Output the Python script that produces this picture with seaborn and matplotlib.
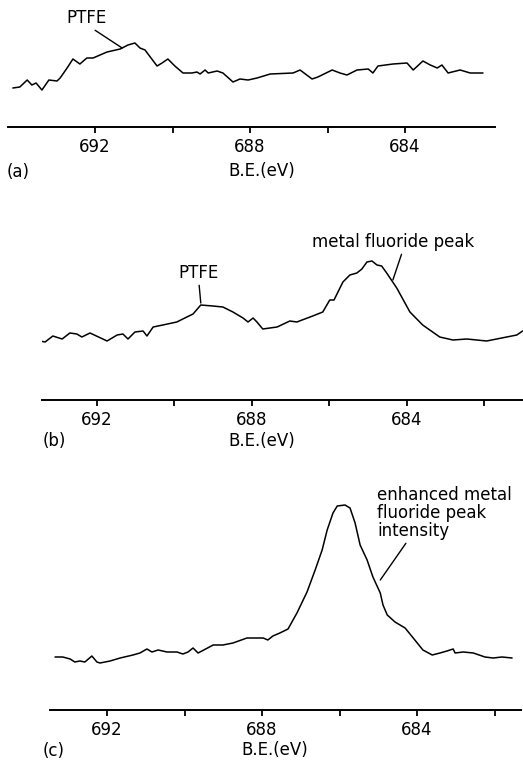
import numpy as np
import pandas as pd
import matplotlib
matplotlib.use("Agg")
import matplotlib.pyplot as plt
import seaborn as sns

# ---------------- data (binding energy eV, intensity arb. units) ----------------
be_a = [694.12, 693.94, 693.75, 693.63, 693.52, 693.37, 693.19, 692.98, 692.90, 692.72,
        692.57, 692.39, 692.21, 692.05, 691.69, 691.35, 691.15, 690.97, 690.84, 690.71,
        690.40, 690.27, 690.12, 689.94, 689.73, 689.50, 689.37, 689.29, 689.16, 689.08,
        688.85, 688.70, 688.44, 688.26, 688.05, 687.82, 687.48, 686.89, 686.71, 686.40,
        686.25, 685.88, 685.68, 685.50, 685.24, 684.95, 684.83, 684.70, 684.31, 683.95,
        683.79, 683.54, 683.35, 683.17, 683.05, 682.89, 682.58, 682.32, 681.99]
int_a = [39, 40, 47, 42, 44, 37, 47, 46, 49, 59,
         68, 63, 69, 69, 75, 78, 82, 84, 79, 77,
         61, 64, 68, 61, 54, 54, 55, 53, 57, 54,
         56, 54, 45, 48, 47, 49, 53, 54, 57, 48,
         50, 57, 54, 52, 57, 58, 54, 61, 63, 64,
         57, 66, 62, 59, 62, 54, 57, 54, 54]

be_b = [693.47, 693.34, 693.14, 692.90, 692.70, 692.52, 692.39, 692.18, 691.74, 691.48,
        691.33, 691.20, 691.02, 690.81, 690.71, 690.55, 690.30, 689.94, 689.68, 689.52,
        689.32, 689.01, 688.75, 688.49, 688.23, 688.10, 687.97, 687.87, 687.72, 687.35,
        687.02, 686.84, 686.43, 686.17, 685.99, 685.88, 685.65, 685.47, 685.29, 685.16,
        685.03, 684.90, 684.77, 684.65, 684.52, 684.26, 683.92, 683.59, 683.15, 682.81,
        682.45, 681.94, 681.42, 681.16, 681.01]
int_b = [59, 58, 64, 61, 67, 66, 63, 67, 59, 65,
         66, 61, 68, 69, 64, 73, 75, 78, 83, 86,
         95, 94, 93, 88, 82, 78, 82, 78, 71, 73,
         79, 78, 84, 88, 100, 100, 118, 125, 127, 131,
         138, 139, 135, 134, 127, 112, 88, 75, 63, 60,
         61, 59, 63, 65, 69]

be_c = [693.34, 693.14, 692.95, 692.83, 692.70, 692.57, 692.39, 692.26, 692.18, 691.92,
        691.66, 691.33, 691.15, 690.97, 690.84, 690.68, 690.45, 690.19, 690.12, 690.04,
        689.91, 689.78, 689.65, 689.26, 689.01, 688.75, 688.39, 687.97, 687.85, 687.72,
        687.54, 687.33, 687.10, 686.84, 686.63, 686.45, 686.32, 686.17, 686.06, 685.86,
        685.73, 685.60, 685.47, 685.29, 685.14, 684.95, 684.88, 684.77, 684.57, 684.31,
        684.10, 683.85, 683.61, 683.41, 683.23, 683.07, 683.02, 682.81, 682.55, 682.25,
        682.04, 681.81, 681.55]
int_c = [53, 53, 51, 48, 49, 48, 54, 48, 47, 49,
         52, 55, 57, 61, 58, 60, 58, 58, 57, 56,
         58, 62, 57, 65, 65, 67, 72, 72, 70, 74,
         77, 81, 97, 118, 140, 160, 180, 197, 204, 205,
         202, 187, 165, 150, 133, 117, 105, 95, 88, 82,
         72, 60, 55, 57, 59, 61, 57, 58, 57, 53,
         52, 53, 52]

ticks_a = [692, 690, 688, 686, 684]
ticks_bc = [692, 690, 688, 686, 684, 682]
labelled_ticks = [692, 688, 684]
xlabel = "B.E.(eV)"
panel_letters = ["(a)", "(b)", "(c)"]

# ---------------- figure ----------------
sns.set_style("white")
plt.rcParams['font.family'] = ['DejaVu Sans']
plt.rcParams['text.color'] = 'black'
plt.rcParams['xtick.color'] = 'black'
plt.rcParams['axes.labelcolor'] = 'black'

W, H = 523, 761
fig = plt.figure(figsize=(W / 100, H / 100), dpi=100)


def px_axes(x0, x1, ytop, ybase):
    return fig.add_axes([x0 / W, (H - ybase) / H, (x1 - x0) / W, (ybase - ytop) / H])


def px_text(x, y, s, **kw):
    fig.text(x / W, 1 - y / H, s, fontsize=12, color="black", **kw)


panels = [
    dict(be=be_a, inten=int_a, ticks=ticks_a, box=(8, 495, 0, 127), xlim=(694.245, 681.68)),
    dict(be=be_b, inten=int_b, ticks=ticks_bc, box=(42, 523, 230, 400), xlim=(693.42, 681.0)),
    dict(be=be_c, inten=int_c, ticks=ticks_bc, box=(50, 521, 470, 710), xlim=(693.47, 681.32)),
]

axes = []
for p in panels:
    x0, x1, yt, yb = p["box"]
    ax = px_axes(x0, x1, yt, yb)
    df = pd.DataFrame({"be": p["be"], "intensity": p["inten"]})
    sns.lineplot(data=df, x="be", y="intensity", ax=ax, color="black", linewidth=1.1,
                 sort=False, estimator=None)
    ax.set_xlim(*p["xlim"])
    ax.set_ylim(0, yb - yt)
    ax.set_facecolor("none")
    for s in ["top", "left", "right"]:
        ax.spines[s].set_visible(False)
    ax.spines["bottom"].set_linewidth(1.4)
    ax.spines["bottom"].set_color("black")
    ax.set_yticks([])
    ax.set_xticks(p["ticks"])
    ax.set_xticklabels([str(t) if t in labelled_ticks else "" for t in p["ticks"]])
    ax.tick_params(axis="x", direction="out", length=4, width=1.3, pad=4,
                   labelsize=12, colors="black", bottom=True)
    ax.set_xlabel("")
    ax.set_ylabel("")
    axes.append(ax)

# axis labels and panel letters
px_text(262, 171, xlabel, ha="center", va="center")
px_text(7, 172, panel_letters[0], ha="left", va="center")
px_text(262, 441, xlabel, ha="center", va="center")
px_text(43, 441, panel_letters[1], ha="left", va="center")
px_text(275, 750, xlabel, ha="center", va="center")
px_text(43, 751, panel_letters[2], ha="left", va="center")

line_kw = dict(arrowstyle="-", color="black", lw=1.0, shrinkA=0, shrinkB=0)

# annotations
axes[0].annotate("PTFE", xy=(691.30, 79), xytext=(692.23, 109), ha="center", va="center",
                 fontsize=12, color="black", arrowprops=dict(relpos=(0.6, 0.0), **line_kw))
axes[1].annotate("PTFE", xy=(689.32, 97), xytext=(689.37, 127), ha="center", va="center",
                 fontsize=12, color="black", arrowprops=dict(relpos=(0.5, 0.0), **line_kw))
axes[1].annotate("metal fluoride peak", xy=(684.36, 120), xytext=(684.36, 158), ha="center",
                 va="center", fontsize=12, color="black",
                 arrowprops=dict(relpos=(0.56, 0.0), **line_kw))
axes[2].annotate("enhanced metal\nfluoride peak\nintensity", xy=(684.95, 130),
                 xytext=(685.03, 224), ha="left", va="top", fontsize=12, linespacing=1.0,
                 color="black", arrowprops=dict(relpos=(0.23, 0.0), **line_kw))

fig.savefig("out.png", dpi=100, facecolor="white")
